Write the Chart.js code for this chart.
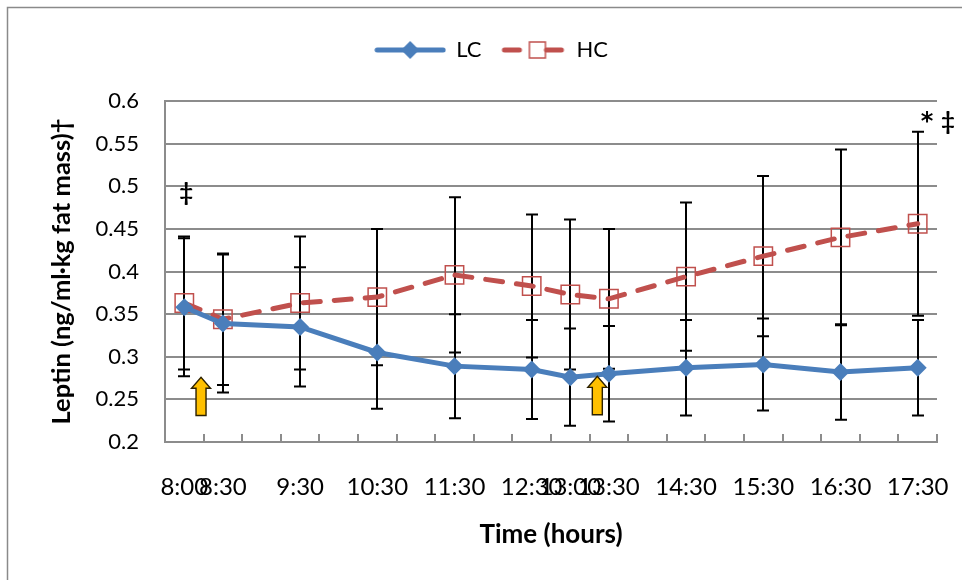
<!DOCTYPE html>
<html>
<head>
<meta charset="utf-8">
<script src="https://cdn.jsdelivr.net/npm/chart.js@4.4.1/dist/chart.umd.min.js"></script>
<style>
  html, body { margin: 0; padding: 0; background: #fff; }
</style>
</head>
<body>
<canvas id="leptinChart" width="962" height="580"></canvas>
<script>
// Tiempos de muestreo (etiquetas del eje x)
const TIME_LABELS = ['8:00', '8:30', '9:30', '10:30', '11:30', '12:30', '13:00', '13:30', '14:30', '15:30', '16:30', '17:30'];

// Medias y desviaciones
const LC_MEAN = [0.358, 0.339, 0.335, 0.305, 0.289, 0.285, 0.276, 0.280, 0.287, 0.291, 0.282, 0.287];
const LC_SD   = [0.081, 0.081, 0.070, 0.066, 0.061, 0.058, 0.057, 0.056, 0.056, 0.054, 0.056, 0.056];
const HC_MEAN = [0.363, 0.344, 0.363, 0.370, 0.396, 0.383, 0.373, 0.368, 0.394, 0.418, 0.440, 0.456];
const HC_SD   = [0.078, 0.077, 0.078, 0.080, 0.091, 0.084, 0.088, 0.082, 0.087, 0.094, 0.103, 0.108];

const Y_TICKS = [0.2, 0.25, 0.3, 0.35, 0.4, 0.45, 0.5, 0.55, 0.6];

const BLUE = '#4A7EBB';
const RED  = '#C0504D';
const GRID = '#8C8C8C';
const FONT = 'Lato, "Open Sans", sans-serif';

// minutos desde las 8:00
const toMinutes = t => {
  const [h, m] = t.split(':').map(Number);
  return (h - 8) * 60 + m;
};
const TIMES = TIME_LABELS.map(toMinutes);

// Iconos de la leyenda (línea + marcador)
function legendIcon(color, dashed) {
  const c = document.createElement('canvas');
  c.width = dashed ? 70 : 72;
  c.height = 24;
  const g = c.getContext('2d');
  g.strokeStyle = color;
  g.lineWidth = 5;
  g.lineCap = 'round';
  g.beginPath();
  if (dashed) {
    g.moveTo(9, 12); g.lineTo(24, 12);
    g.moveTo(51, 12); g.lineTo(66, 12);
  } else {
    g.moveTo(3, 12); g.lineTo(69, 12);
  }
  g.stroke();
  if (dashed) {
    g.lineWidth = 1.5;
    g.strokeRect(34, 4, 16, 16);
  } else {
    g.fillStyle = color;
    g.beginPath();
    g.moveTo(36, 3); g.lineTo(45, 12); g.lineTo(36, 21); g.lineTo(27, 12);
    g.closePath();
    g.fill();
  }
  return c;
}

// Deja espacio libre entre la leyenda y el área del gráfico
const legendSpacer = {
  id: 'legendSpacer',
  afterInit(chart) {
    const legend = chart.legend;
    if (!legend) return;
    const fit = legend.fit;
    legend.fit = function () {
      fit.call(this);
      this.height += 30;
    };
  }
};

// Fondo y marco exterior
const framePlugin = {
  id: 'frame',
  beforeDraw(chart) {
    const { ctx, width, height } = chart;
    ctx.save();
    ctx.fillStyle = '#fff';
    ctx.fillRect(0, 0, width, height);
    ctx.strokeStyle = '#8A8A8A';
    ctx.lineWidth = 1.5;
    ctx.beginPath();
    ctx.moveTo(7.5, height); ctx.lineTo(7.5, 7.5); ctx.lineTo(width, 7.5);
    ctx.stroke();
    ctx.restore();
  }
};

// Barras de error y marcas interiores del eje x
const errorBarsPlugin = {
  id: 'errorBars',
  beforeDatasetsDraw(chart) {
    const { ctx, scales: { x, y } } = chart;
    ctx.save();
    // marcas del eje (cada 30 min, entre categorías)
    ctx.strokeStyle = GRID;
    ctx.lineWidth = 2;
    ctx.beginPath();
    for (let m = x.min + 30; m <= x.max; m += 30) {
      const px = Math.round(x.getPixelForValue(m));
      ctx.moveTo(px, y.bottom);
      ctx.lineTo(px, y.bottom - 8);
    }
    ctx.stroke();

    ctx.strokeStyle = '#000';
    ctx.lineWidth = 2;
    [[LC_MEAN, LC_SD], [HC_MEAN, HC_SD]].forEach(([mean, sd]) => {
      mean.forEach((m, i) => {
        const px = Math.round(x.getPixelForValue(TIMES[i]));
        const top = y.getPixelForValue(m + sd[i]);
        const bot = y.getPixelForValue(m - sd[i]);
        ctx.beginPath();
        ctx.moveTo(px, top); ctx.lineTo(px, bot);
        ctx.moveTo(px - 6, top); ctx.lineTo(px + 6, top);
        ctx.moveTo(px - 6, bot); ctx.lineTo(px + 6, bot);
        ctx.stroke();
      });
    });
    ctx.restore();
  }
};

// Flechas de comida y símbolos de significancia
const annotationsPlugin = {
  id: 'annotations',
  afterDatasetsDraw(chart) {
    const { ctx, scales: { x, y } } = chart;
    ctx.save();
    [[13, 0.231, 0.276], [321, 0.232, 0.277]].forEach(([t, y0, y1]) => {
      const cx = x.getPixelForValue(t);
      const b = y.getPixelForValue(y0);
      const tp = y.getPixelForValue(y1);
      const headH = 11;
      ctx.beginPath();
      ctx.moveTo(cx - 5, b);
      ctx.lineTo(cx - 5, tp + headH);
      ctx.lineTo(cx - 9.5, tp + headH);
      ctx.lineTo(cx, tp);
      ctx.lineTo(cx + 9.5, tp + headH);
      ctx.lineTo(cx + 5, tp + headH);
      ctx.lineTo(cx + 5, b);
      ctx.closePath();
      ctx.fillStyle = '#FFC000';
      ctx.fill();
      ctx.strokeStyle = '#2B2000';
      ctx.lineWidth = 1.4;
      ctx.stroke();
    });

    ctx.fillStyle = '#000';
    ctx.textAlign = 'center';
    ctx.textBaseline = 'middle';
    const xEnd = x.getPixelForValue(x.max);
    ctx.font = 'bold 24px ' + FONT;
    ctx.fillText('\u2021', x.getPixelForValue(TIMES[0]) + 2, y.getPixelForValue(0.492));
    ctx.fillText('\u2021', xEnd + 11, y.getPixelForValue(0.575));
    ctx.font = 'bold 24px "DejaVu Sans", sans-serif';
    ctx.fillText('*', xEnd - 10, y.getPixelForValue(0.574));
    ctx.restore();
  }
};

const ctx = document.getElementById('leptinChart').getContext('2d');

new Chart(ctx, {
  type: 'line',
  data: {
    datasets: [
      {
        label: 'LC',
        data: TIMES.map((t, i) => ({ x: t, y: LC_MEAN[i] })),
        borderColor: BLUE,
        backgroundColor: BLUE,
        borderWidth: 5,
        pointStyle: 'rectRot',
        pointRadius: 9,
        pointBorderWidth: 0,
        pointBackgroundColor: BLUE,
        tension: 0
      },
      {
        label: 'HC',
        data: TIMES.map((t, i) => ({ x: t, y: HC_MEAN[i] })),
        borderColor: RED,
        backgroundColor: 'rgba(0,0,0,0)',
        borderWidth: 5,
        borderDash: [17, 14],
        borderCapStyle: 'round',
        pointStyle: 'rect',
        pointRadius: 13,
        pointBorderWidth: 1.5,
        pointBorderColor: RED,
        pointBackgroundColor: 'rgba(0,0,0,0)',
        tension: 0
      }
    ]
  },
  options: {
    responsive: false,
    animation: false,
    layout: { padding: { top: 21, left: 46, right: 25, bottom: 30 } },
    plugins: {
      tooltip: { enabled: false },
      legend: {
        position: 'top',
        labels: {
          usePointStyle: true,
          pointStyleWidth: 70,
          padding: 14,
          color: '#000',
          font: { family: FONT, size: 22 },
          generateLabels: chart => chart.data.datasets.map((ds, i) => ({
            text: ds.label,
            pointStyle: legendIcon(ds.borderColor, i === 1),
            fillStyle: ds.borderColor,
            strokeStyle: ds.borderColor,
            lineWidth: 0,
            fontColor: '#000',
            datasetIndex: i
          }))
        }
      }
    },
    scales: {
      x: {
        type: 'linear',
        min: -15,
        max: 585,
        afterBuildTicks: scale => { scale.ticks = TIMES.map(v => ({ value: v })); },
        afterFit: scale => {
          scale.height = 108;
          scale.paddingLeft = 0;
          scale.paddingRight = 0;
        },
        grid: { display: false },
        border: { display: true, color: GRID, width: 2 },
        ticks: {
          autoSkip: false,
          maxRotation: 0,
          minRotation: 0,
          padding: 23,
          color: '#000',
          font: { family: FONT, size: 24 },
          callback: (v, i) => TIME_LABELS[i]
        },
        title: {
          display: true,
          text: 'Time (hours)',
          color: '#000',
          padding: { top: 0, bottom: 0 },
          font: { family: FONT, size: 26, weight: 'bold' }
        }
      },
      y: {
        min: 0.2,
        max: 0.6,
        afterBuildTicks: scale => { scale.ticks = Y_TICKS.map(v => ({ value: v })); },
        afterFit: scale => { scale.width = 119; scale.paddingTop = 101; },
        grid: { color: GRID, lineWidth: 2, drawTicks: false },
        border: { display: true, color: GRID, width: 2 },
        ticks: {
          padding: 26,
          color: '#000',
          font: { family: FONT, size: 22 },
          callback: v => String(+v.toFixed(2))
        },
        title: {
          display: true,
          text: 'Leptin (ng/ml\u00B7kg fat mass)\u2020',
          color: '#000',
          padding: { top: 0, bottom: 0 },
          font: { family: FONT, size: 25.5, weight: 'bold' }
        }
      }
    }
  },
  plugins: [legendSpacer, framePlugin, errorBarsPlugin, annotationsPlugin]
});
</script>
</body>
</html>
